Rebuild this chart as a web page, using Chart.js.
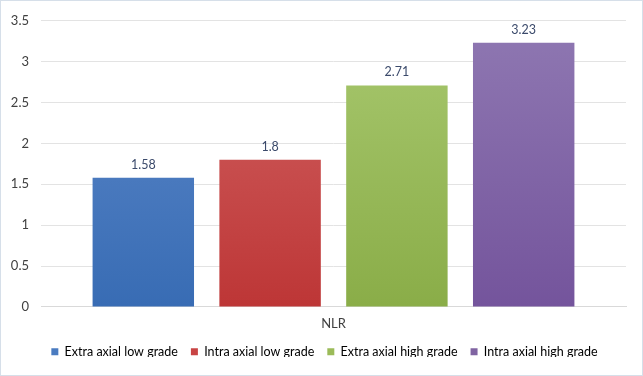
<!DOCTYPE html>
<html>
<head>
<meta charset="utf-8">
<script src="https://cdn.jsdelivr.net/npm/chart.js@4"></script>
<style>
  html, body { margin: 0; padding: 0; background: #fff; }
  #wrap { width: 641px; height: 374px; border: 1px solid #d6dfe9; position: relative; }
</style>
</head>
<body>
<div id="wrap"><canvas id="grafica" width="641" height="374"></canvas></div>
<script>
const categorias = ["NLR"];
const grupos = ["Extra axial low grade", "Intra axial low grade", "Extra axial high grade", "Intra axial high grade"];
const valores = [1.58, 1.8, 2.71, 3.23];
const etiquetas = ["1.58", "1.8", "2.71", "3.23"];
const colorArriba = ["#5e89ca", "#d26464", "#a8c86f", "#8f78b2"];
const colorAbajo = ["#386cb4", "#bd3636", "#8aad48", "#74549c"];
const colorLeyenda = ["#4a7bc0", "#c84444", "#9bbb59", "#8064a2"];

const fuente = "Lato, 'Open Sans', sans-serif";

// degradado vertical por barra
function degradado(i) {
  return function(ctx) {
    let chart = ctx.chart;
    let area = chart.chartArea;
    if (!area) return colorLeyenda[i];
    let g = chart.ctx.createLinearGradient(0, area.top, 0, area.bottom);
    g.addColorStop(0, colorArriba[i]);
    g.addColorStop(1, colorAbajo[i]);
    return g;
  };
}

// etiquetas de valor encima de las barras
const etiquetasPlugin = {
  id: "etiquetas",
  afterInit(chart) {
    // leyenda menos alta que lo que da el padding
    if (chart.legend && !chart.legend._ajustada) {
      let fitOrig = chart.legend.fit;
      chart.legend.fit = function() {
        fitOrig.call(this);
        this.height -= 11;
      };
      chart.legend._ajustada = true;
    }
  },
  afterLayout(chart) {
    // mover la leyenda un poco a la derecha
    let lg = chart.legend;
    if (!lg) return;
    lg.left += 9; lg.right += 9;
  },
  afterDatasetsDraw(chart) {
    let ctx = chart.ctx;
    ctx.save();
    ctx.font = "12.5px " + fuente;
    ctx.fillStyle = "#3b4a6b";
    ctx.textAlign = "center";
    ctx.textBaseline = "bottom";
    chart.data.datasets.forEach((ds, i) => {
      let bar = chart.getDatasetMeta(i).data[0];
      ctx.fillText(etiquetas[i], bar.x, bar.y - 7);
    });
    ctx.restore();
  }
};

let datasets = grupos.map((g, i) => ({
  label: g,
  data: [valores[i]],
  backgroundColor: degradado(i),
  borderWidth: 0
}));

new Chart(document.getElementById("grafica").getContext("2d"), {
  type: "bar",
  data: { labels: categorias, datasets },
  options: {
    responsive: false,
    animation: false,
    devicePixelRatio: 1,
    categoryPercentage: 0.867,
    barPercentage: 0.8,
    layout: { padding: { top: 5, right: 16, left: 4, bottom: 18 } },
    plugins: {
      tooltip: { enabled: false },
      legend: {
        position: "bottom",
        labels: {
          boxWidth: 7,
          boxHeight: 7,
          padding: 13,
          color: "#404040",
          font: { family: fuente, size: 12.5 },
          generateLabels: (chart) => grupos.map((g, i) => ({
            text: g,
            fillStyle: colorLeyenda[i],
            strokeStyle: colorLeyenda[i],
            lineWidth: 0,
            datasetIndex: i
          }))
        }
      }
    },
    scales: {
      x: {
        grid: { display: false },
        border: { color: "#d9d9d9" },
        ticks: { color: "#404040", padding: 1, font: { family: fuente, size: 13 } }
      },
      y: {
        min: 0,
        max: 3.5,
        ticks: {
          stepSize: 0.5,
          color: "#404040",
          padding: 12,
          font: { family: fuente, size: 13 },
          callback: (v) => String(v)
        },
        grid: { color: "#e3e3e3", drawTicks: false },
        border: { display: false },
        afterFit: (s) => { s.width = 36; }
      }
    }
  },
  plugins: [etiquetasPlugin]
});
</script>
</body>
</html>
